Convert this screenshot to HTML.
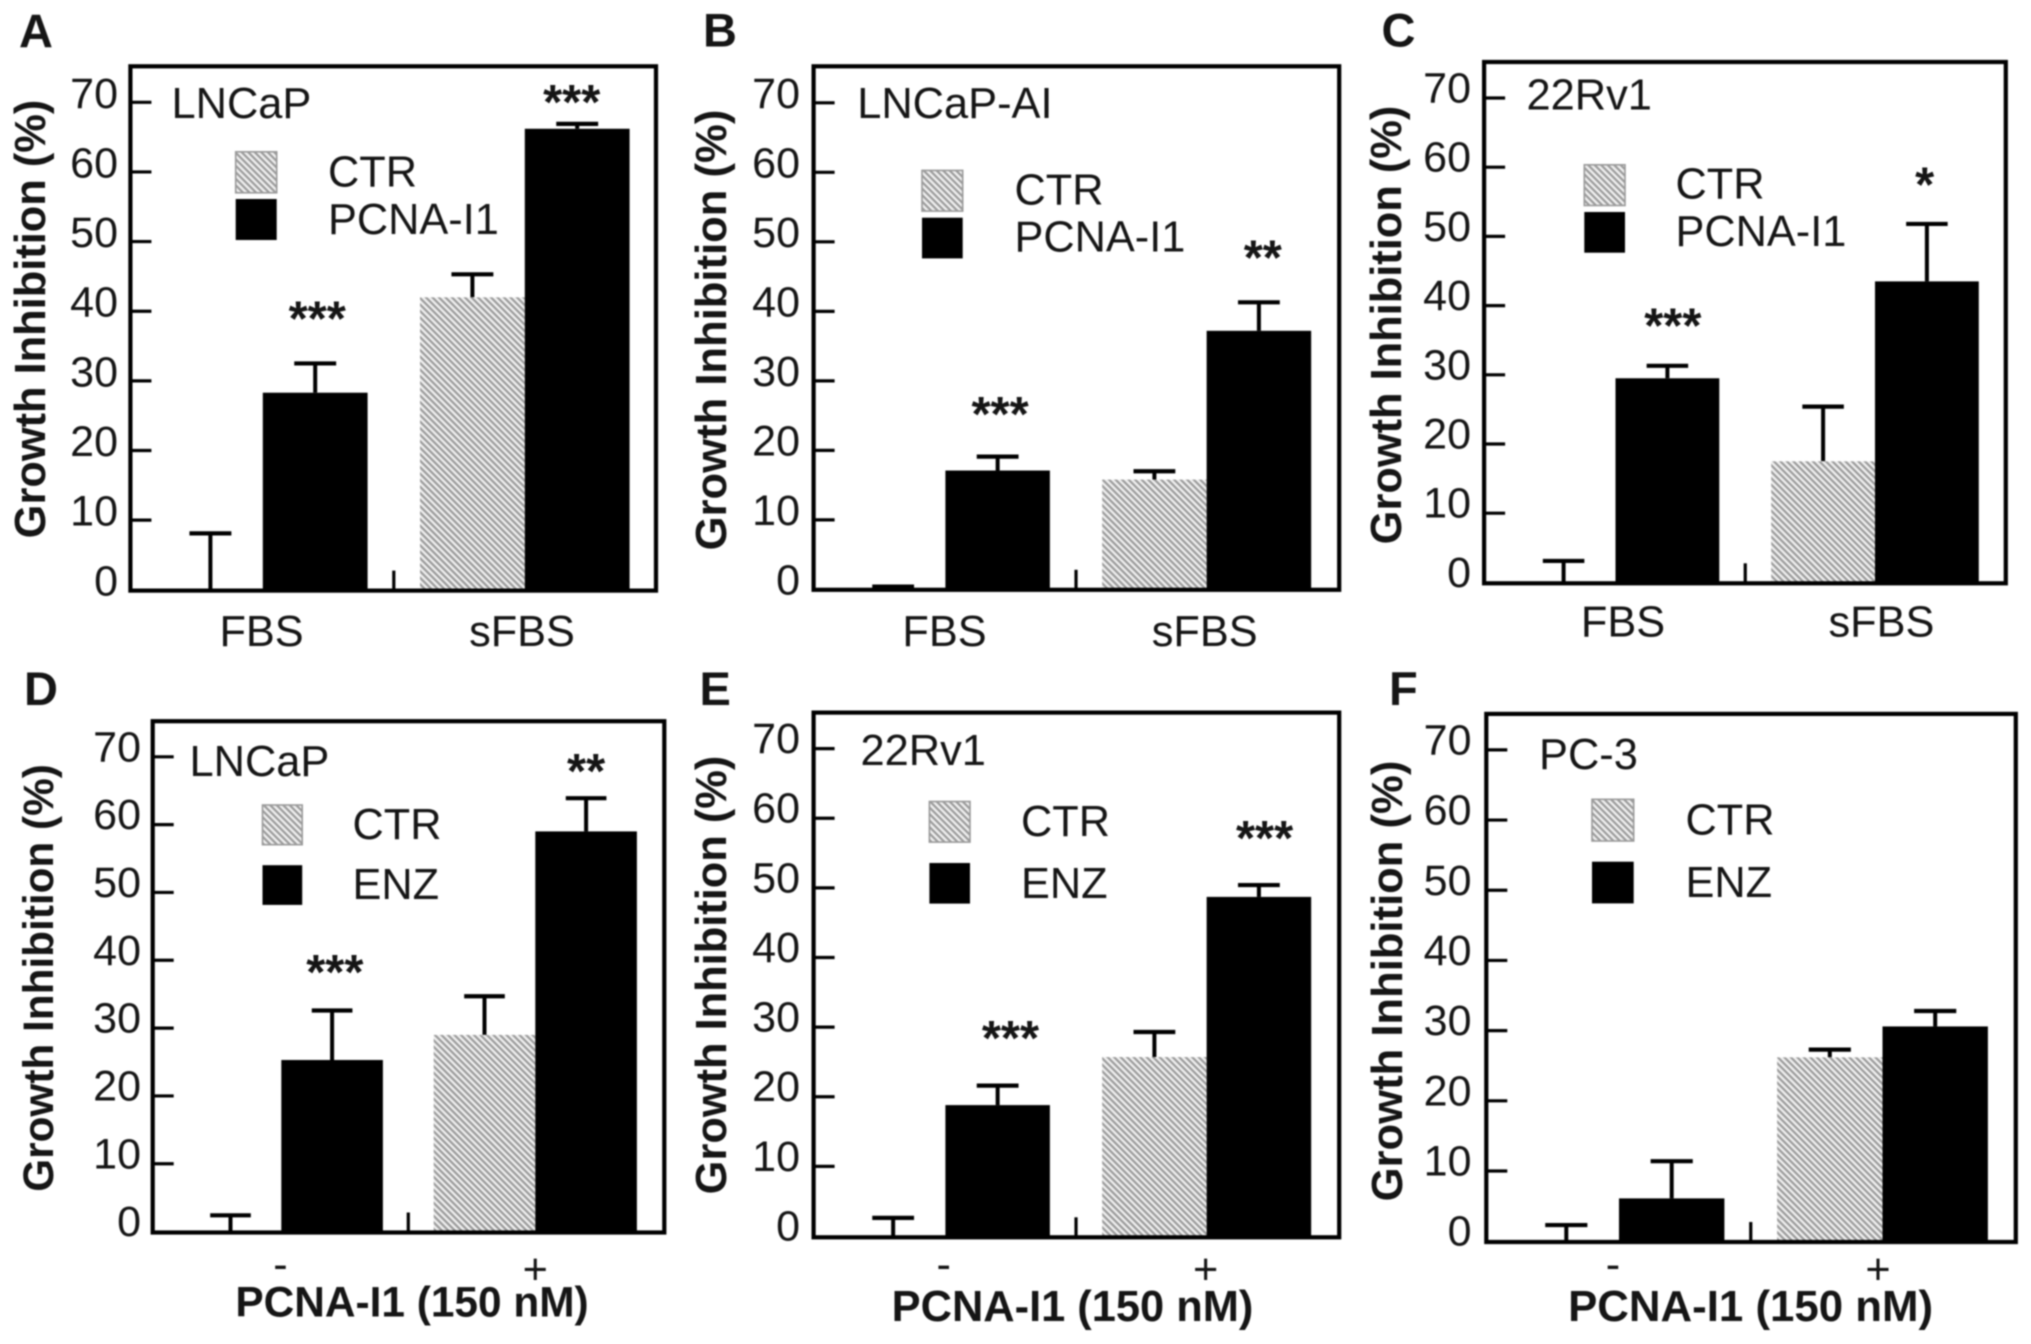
<!DOCTYPE html>
<html lang="en">
<head>
<meta charset="utf-8">
<title>Growth inhibition panels A–F</title>
<style>
  html, body { margin: 0; padding: 0; background: #fff; }
  body { width: 2031px; height: 1344px; overflow: hidden; }
  #figure { display: block; filter: blur(0.9px); }
  text { font-family: "Liberation Sans", Arial, sans-serif; fill: #151515; }
</style>
</head>
<body>
<svg id="figure" xmlns="http://www.w3.org/2000/svg" width="2031" height="1344" viewBox="0 0 2031 1344">
  <defs>
    <pattern id="hatch" patternUnits="userSpaceOnUse" width="4.6" height="4.6" patternTransform="rotate(45)">
      <rect width="4.6" height="4.6" fill="#efefef"></rect>
      <rect width="4.6" height="2.2" fill="#9a9a9a"></rect>
    </pattern>
  </defs>
  <rect width="2031" height="1344" fill="#ffffff"></rect>
</svg>
<script>
/* ---------- chart data ---------- */
const panelIds = ['A', 'B', 'C', 'D', 'E', 'F'];
const cellLines = ['LNCaP', 'LNCaP-AI', '22Rv1', 'LNCaP', '22Rv1', 'PC-3'];
const yTickLabels = [0, 10, 20, 30, 40, 50, 60, 70];
const yAxisTitle = 'Growth Inhibition (%)';
const serumCategories = ['FBS', 'sFBS'];
const doseCategories = ['-', '+'];
const doseTitle = 'PCNA-I1 (150 nM)';
const legendControl = 'CTR';
const legendTreatments = ['PCNA-I1', 'PCNA-I1', 'PCNA-I1', 'ENZ', 'ENZ', 'ENZ'];

/* each row: [first group, second group] */
const ctrMeans = [[0, 42], [0, 15.8], [0, 17.5], [0, 29], [0, 25.7], [0, 26.2]];
const ctrErrorTops = [[8.1, 45.3], [0.4, 17], [3.1, 25.4], [2.4, 34.7], [2.6, 29.3], [2.3, 27.3]];
const treatedMeans = [[28.3, 66.2], [17.1, 37.2], [29.5, 43.5], [25.3, 59], [18.8, 48.7], [6.1, 30.6]];
const treatedErrorTops = [[32.5, 66.9], [19.1, 41.3], [31.3, 51.8], [32.6, 63.9], [21.6, 50.4], [11.4, 32.8]];
const significance = [['***', '***'], ['***', '**'], ['***', '*'], ['***', '**'], ['***', '***'], ['', '']];
const significanceLevels = [[41.1, 72.2], [27.4, 49.9], [39.3, 59.7], [40.5, 70.1], [30.6, 59.3], [0, 0]];

/* ---------- page layout (not data) ---------- */
const panelLayouts = {
  A: { L:130.4, R:656,    T:66.3,  B:590.6,  y0:589.8,  y70:102.3, x0:158,    w:104.8, tick:21, labX:118,   labDy:5.5, titleX:45,    titleY:319, titleSize:43.4,
       letter:[19,47.7],   cell:[171.5,118],  swX:[235.7,41], swY:[151.8,199], legX:328, legB:[186.5,234],
       catX:[261.6,522],   catB:646, starDx:[2,-5.5] },
  B: { L:813.6, R:1339.2, T:66.3,  B:589.8,  y0:589.4,  y70:102.8, x0:840.9,  w:104.5, tick:21, labX:800,   labDy:5,   titleX:725.8, titleY:330, titleSize:43.6,
       letter:[703,46.4],  cell:[857.2,118],  swX:[922,40.7], swY:[170.4,217.7], legX:1014.5, legB:[204.7,251.5],
       catX:[944.5,1204.7],catB:646, starDx:[2.4,3.9] },
  C: { L:1484.1,R:2005.8, T:62,    B:583.3,  y0:582.4,  y70:98,    x0:1511.7, w:103.8, tick:21, labX:1471,  labDy:4.5, titleX:1401,  titleY:325, titleSize:43.4,
       letter:[1381.5,46.4],cell:[1526.5,109.7],swX:[1584.3,40.7], swY:[164.8,212], legX:1675.5, legB:[198.6,245.9],
       catX:[1623,1881.4], catB:636.3, starDx:[5.4,-2.2] },
  D: { L:152.7, R:664.3,  T:721.2, B:1232.5, y0:1231.6, y70:756.8, x0:179.7,  w:101.6, tick:21, labX:141,   labDy:4.5, titleX:53,    titleY:978, titleSize:42.3,
       letter:[24,705],    cell:[189.5,775.9],swX:[262.5,39.7], swY:[805,865.2], legX:352.5, legB:[838.8,899],
       catX:[280.4,535.3], catB:1284, starDx:[2.7,0], doseX:412, doseB:1316.6, doseSize:42.4 },
  E: { L:813.6, R:1339.2, T:712.6, B:1237.3, y0:1236,   y70:748.6, x0:840.9,  w:104.5, tick:21, labX:800,   labDy:4.5, titleX:725.8, titleY:975, titleSize:43.4,
       letter:[699.5,705], cell:[860.5,765],  swX:[929.4,40.6], swY:[801.5,863], legX:1021, legB:[836,898],
       catX:[943.7,1205.6],catB:1284, starDx:[12.8,5.7], doseX:1072.5, doseB:1321, doseSize:43.4 },
  F: { L:1486.3,R:2015.8, T:713.9, B:1242,   y0:1241.2, y70:749.9, x0:1513.6, w:105.4, tick:21, labX:1471.5,labDy:4.5, titleX:1402,  titleY:981, titleSize:43.6,
       letter:[1389,705],  cell:[1539,769],   swX:[1592,41.7], swY:[799.3,861.7], legX:1685.5, legB:[834.4,896.9],
       catX:[1613,1878],   catB:1284, starDx:[0,0], doseX:1750.6, doseB:1321, doseSize:43.8 }
};

const SVG_NS = 'http://www.w3.org/2000/svg';
const figure = document.getElementById('figure');

function make(parent, tag, attrs, content) {
  const node = document.createElementNS(SVG_NS, tag);
  Object.keys(attrs).forEach(function (key) { node.setAttribute(key, attrs[key]); });
  if (content !== undefined) node.textContent = content;
  parent.appendChild(node);
  return node;
}

function drawPanel(index) {
  const id = panelIds[index];
  const p = panelLayouts[id];
  const isDose = index >= 3;

  /* axis functions */
  const yScale = function (value) { return p.y0 + (p.y70 - p.y0) * value / 70; };
  const barLeft = function (group, series) { return p.x0 + group * 2.5 * p.w + series * p.w; };

  const panel = make(figure, 'g', {});
  
  

  const letter = make(panel, 'text', { x: p.letter[0], y: p.letter[1], 'font-size': 47, 'font-weight': 'bold' }, id);
  
  

  /* bars and error bars */
  [0, 1].forEach(function (group) {
    [0, 1].forEach(function (series) {
      const mean = (series === 0 ? ctrMeans : treatedMeans)[index][group];
      const errTop = (series === 0 ? ctrErrorTops : treatedErrorTops)[index][group];
      const left = barLeft(group, series);
      const centre = left + p.w / 2;

      const stem = make(panel, 'line', { x1: centre, x2: centre, y1: yScale(mean), y2: yScale(errTop), stroke: '#000000', 'stroke-width': 4 });
      
      

      const cap = make(panel, 'line', { x1: centre - p.w * 0.2, x2: centre + p.w * 0.2, y1: yScale(errTop), y2: yScale(errTop), stroke: '#000000', 'stroke-width': 4.2 });
      
      

      const bar = make(panel, 'rect', {
        x: left, y: yScale(mean), width: p.w, height: yScale(0) - yScale(mean),
        fill: series === 0 ? 'url(#hatch)' : '#000000'
      });
      
      
    });

    const stars = significance[index][group];
    if (stars) {
      const starX = barLeft(group, 1) + p.w / 2 + p.starDx[group];
      const starY = yScale(significanceLevels[index][group]) + 32;
      const mark = make(panel, 'text', { x: starX, y: starY, 'font-size': 49, 'font-weight': 'bold', 'text-anchor': 'middle' }, stars);
      
      
    }

    const catText = (isDose ? doseCategories : serumCategories)[group];
    const catBaseline = (isDose && group === 0) ? p.catB - 5 : p.catB;
    const cat = make(panel, 'text', { x: p.catX[group], y: catBaseline, 'font-size': 43.3, 'text-anchor': 'middle' }, catText);
    
    
  });

  /* frame */
  const frame = make(panel, 'rect', { x: p.L, y: p.T, width: p.R - p.L, height: p.B - p.T, fill: 'none', stroke: '#000000', 'stroke-width': 4.2 });
  
  

  /* y axis */
  yTickLabels.forEach(function (value) {
    if (value > 0) {
      const tick = make(panel, 'line', { x1: p.L, x2: p.L + p.tick, y1: yScale(value), y2: yScale(value), stroke: '#000000', 'stroke-width': 3.2 });
      
      
    }
    const label = make(panel, 'text', { x: p.labX, y: yScale(value) + p.labDy, 'font-size': 43, 'text-anchor': 'end' }, String(value));
    
    
  });

  const midX = p.x0 + 2.25 * p.w;
  const midTick = make(panel, 'line', { x1: midX, x2: midX, y1: p.B, y2: p.B - 20, stroke: '#000000', 'stroke-width': 3.2 });
  
  

  const yTitle = make(panel, 'text', {
    x: 0, y: 0, 'font-size': p.titleSize, 'font-weight': 'bold', 'text-anchor': 'middle',
    transform: 'translate(' + p.titleX + ',' + p.titleY + ') rotate(-90)'
  }, yAxisTitle);
  
  

  /* cell line */
  const cell = make(panel, 'text', { x: p.cell[0], y: p.cell[1], 'font-size': 43.4 }, cellLines[index]);
  
  

  /* legend */
  const swatchCtr = make(panel, 'rect', { x: p.swX[0], y: p.swY[0], width: p.swX[1], height: p.swX[1], fill: 'url(#hatch)', stroke: '#9a9a9a', 'stroke-width': 1.6 });
  
  

  const swatchTreated = make(panel, 'rect', { x: p.swX[0], y: p.swY[1], width: p.swX[1], height: p.swX[1], fill: '#000000' });
  
  

  const legendCtr = make(panel, 'text', { x: p.legX, y: p.legB[0], 'font-size': 43.3 }, legendControl);
  
  

  const legendTreated = make(panel, 'text', { x: p.legX, y: p.legB[1], 'font-size': 43.3 }, legendTreatments[index]);
  
  

  /* dose axis title */
  if (isDose) {
    const xTitle = make(panel, 'text', { x: p.doseX, y: p.doseB, 'font-size': p.doseSize, 'font-weight': 'bold', 'text-anchor': 'middle' }, doseTitle);
    
    
  }
}

panelIds.forEach(function (_, index) { drawPanel(index); });
</script>
</body>
</html>
